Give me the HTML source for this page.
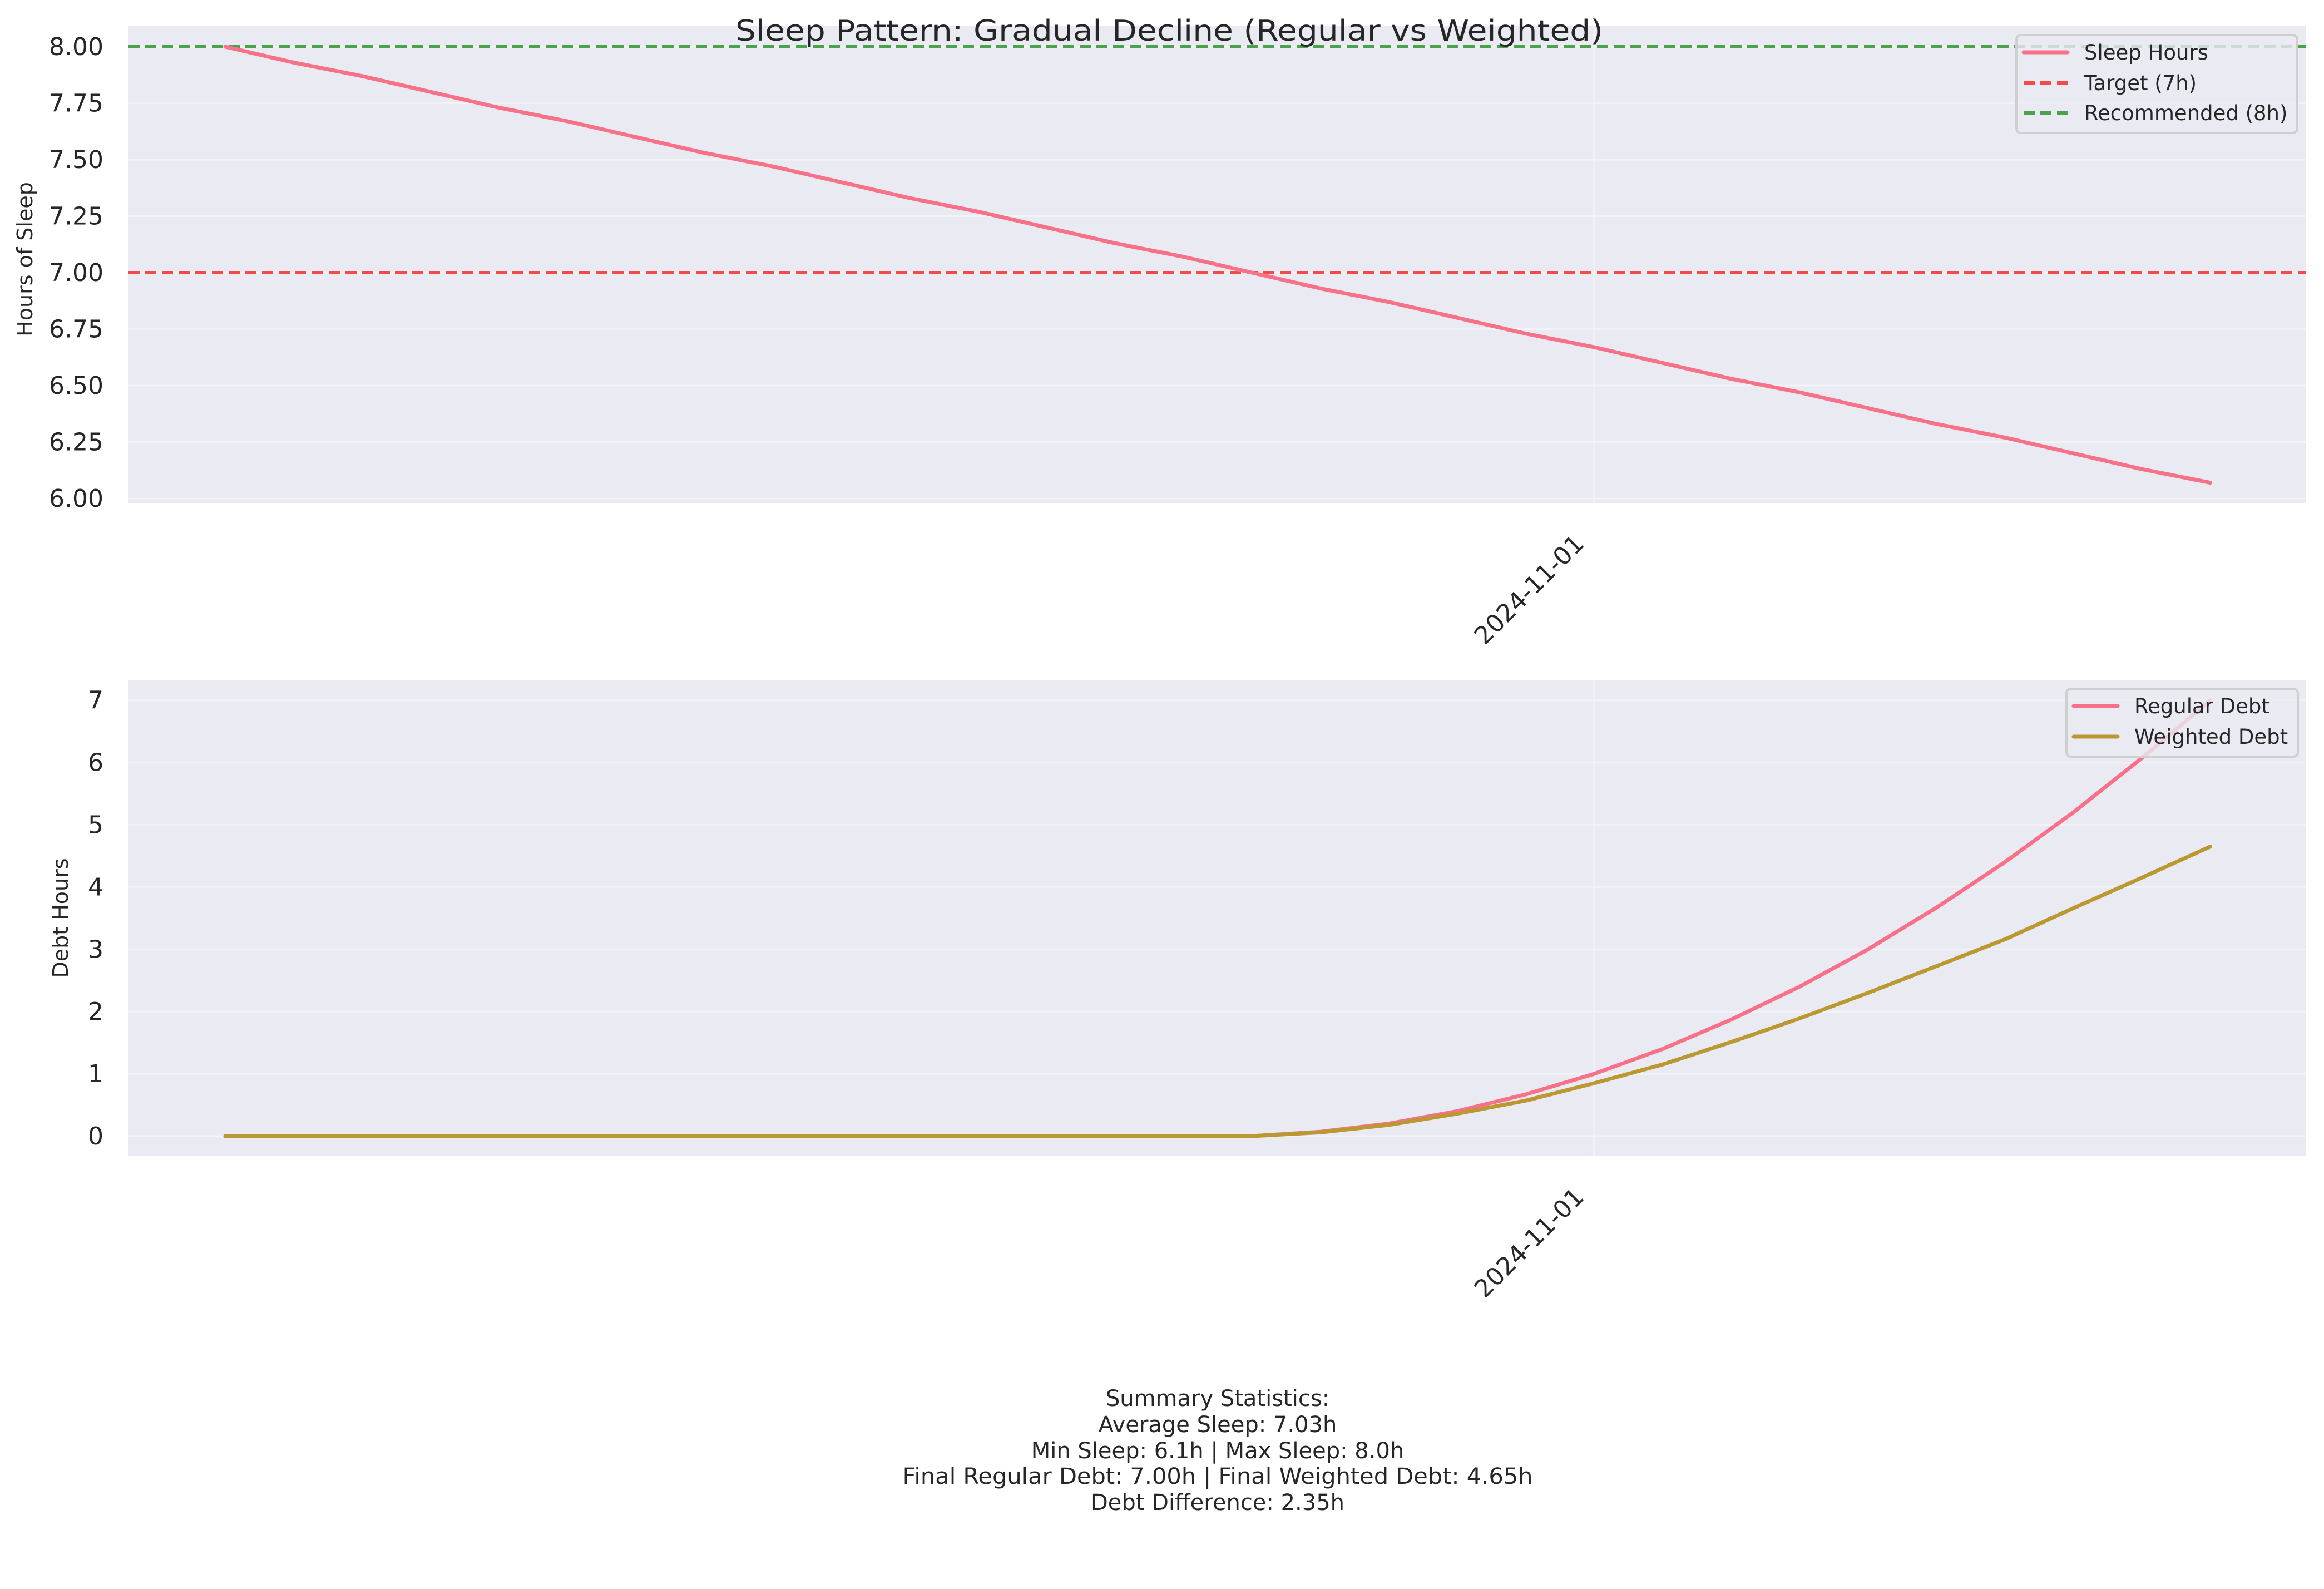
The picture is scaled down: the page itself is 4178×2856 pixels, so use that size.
<!DOCTYPE html>
<html><head><meta charset="utf-8"><style>
html,body{margin:0;padding:0;background:#fff;}
svg{display:block;}
text{font-family:"DejaVu Sans","Liberation Sans",sans-serif;fill:#262626;}
</style></head><body>
<svg id="chart" xmlns="http://www.w3.org/2000/svg" width="4178" height="2856" viewBox="0 0 4178 2856">
<rect x="0" y="0" width="4178" height="2856" fill="#fff"/>
<g id="top"></g>
<g id="bottom"></g>
<text x="2102" y="73" font-size="52" text-anchor="middle" textLength="1560" lengthAdjust="spacingAndGlyphs">Sleep Pattern: Gradual Decline (Regular vs Weighted)</text>
<g font-size="40">
<text x="2189" y="2527" text-anchor="middle">Summary Statistics:</text>
<text x="2189" y="2574" text-anchor="middle">Average Sleep: 7.03h</text>
<text x="2189" y="2621" text-anchor="middle">Min Sleep: 6.1h | Max Sleep: 8.0h</text>
<text x="2189" y="2667" text-anchor="middle" textLength="1133" lengthAdjust="spacingAndGlyphs">Final Regular Debt: 7.00h | Final Weighted Debt: 4.65h</text>
<text x="2189" y="2714" text-anchor="middle">Debt Difference: 2.35h</text>
</g>
</svg>
<script>
const dayIndex = [0,1,2,3,4,5,6,7,8,9,10,11,12,13,14,15,16,17,18,19,20,21,22,23,24,25,26,27,28,29];
const sleepHours = [8.00,7.93,7.87,7.80,7.73,7.67,7.60,7.53,7.47,7.40,7.33,7.27,7.20,7.13,7.07,7.00,6.93,6.87,6.80,6.73,6.67,6.60,6.53,6.47,6.40,6.33,6.27,6.20,6.13,6.07];
const regularDebt = [0,0,0,0,0,0,0,0,0,0,0,0,0,0,0,0,0.07,0.20,0.40,0.67,1.00,1.40,1.87,2.40,3.00,3.67,4.40,5.20,6.07,7.00];
const weightedDebt = [0,0,0,0,0,0,0,0,0,0,0,0,0,0,0,0,0.06,0.18,0.36,0.57,0.85,1.15,1.51,1.89,2.30,2.73,3.16,3.66,4.15,4.65];
const targetLine = 7;
const recommendedLine = 8;
const topTicks = [6.00,6.25,6.50,6.75,7.00,7.25,7.50,7.75,8.00];
const bottomTicks = [0,1,2,3,4,5,6,7];
const dateTickIndex = 20;
const dateTickLabel = "2024-11-01";

const NS = "http://www.w3.org/2000/svg";
function mk(tag, attrs, parent){const e=document.createElementNS(NS,tag);for(const k in attrs)e.setAttribute(k,attrs[k]);parent.appendChild(e);return e;}
const L=231,R=4146;
const xS = i => 405 + i*123.05;
const yTop = v => 84 + (8 - v)*406;
const yBot = v => 2042 - v*111.9;
const GRID = '#f3f3f7';

function axes(g, top, bottom, ticks, yf, fmt, ylabel, ylabelX, ylabelY, name){
  const bg = mk('rect',{x:L,y:top,width:R-L,height:bottom-top,fill:'#eaeaf2'},g);
  
  
  ticks.forEach(t=>{
    const y=yf(t);
    const gl=mk('line',{x1:L,x2:R,y1:y,y2:y,stroke:GRID,'stroke-width':3},g);
    
    
    const tl=mk('text',{x:186,y:y+15,'font-size':44,'text-anchor':'end'},g);
    tl.textContent=fmt(t);
    
    
  });
  const xg=xS(dateTickIndex);
  const vg=mk('line',{x1:xg,x2:xg,y1:top,y2:bottom,stroke:GRID,'stroke-width':3},g);
  
  
  const xl=mk('text',{x:0,y:0,'font-size':44,'text-anchor':'end',transform:`translate(${xg-16},${bottom+76}) rotate(-45)`},g);
  xl.textContent=dateTickLabel;
  
  
  const yl=mk('text',{x:0,y:0,'font-size':38,'text-anchor':'middle',transform:`translate(${ylabelX},${ylabelY}) rotate(-90)`},g);
  yl.textContent=ylabel;
  
  
}
function series(g, vals, yf, color, name){
  const pts=vals.map((v,i)=>xS(dayIndex[i]).toFixed(1)+','+yf(v).toFixed(1)).join(' ');
  const p=mk('polyline',{points:pts,fill:'none',stroke:color,'stroke-width':7,'stroke-linejoin':'round','stroke-linecap':'round'},g);
  
  
}
function hline(g,v,yf,color,name){
  const l=mk('line',{x1:L,x2:R,y1:yf(v),y2:yf(v),stroke:color,'stroke-width':6,'stroke-dasharray':'20 10'},g);
  
  
}
function legend(g,x,y,w,h,items,name){
  const b=mk('rect',{x:x,y:y,width:w,height:h,rx:8,fill:'#eaeaf2','fill-opacity':0.8,stroke:'#cfcfcf','stroke-width':4},g);
  
  
  items.forEach(it=>{
    const l=mk('line',{x1:x+13,x2:x+92,y1:it.y,y2:it.y,stroke:it.color,'stroke-width':7,'stroke-linecap':it.dash?'butt':'round'},g);
    if(it.dash) l.setAttribute('stroke-dasharray','20 10');
    
    
    const t=mk('text',{x:x+122,y:it.y+13,'font-size':37},g);
    t.textContent=it.label;
    
    
  });
}

const gt=document.getElementById('top');


axes(gt,47,904,topTicks,yTop,v=>v.toFixed(2),'Hours of Sleep',58,466,'top');
hline(gt,targetLine,yTop,'#f44a4a','target-line');
hline(gt,recommendedLine,yTop,'#4ba24b','recommended-line');
series(gt,sleepHours,yTop,'#f77189','sleep-hours-line');
legend(gt,3625,63,505,176,[
  {y:94,color:'#f77189',label:'Sleep Hours'},
  {y:149,color:'#f44a4a',label:'Target (7h)',dash:true},
  {y:203,color:'#4ba24b',label:'Recommended (8h)',dash:true}],'top-legend');

const gb=document.getElementById('bottom');


axes(gb,1223,2078,bottomTicks,yBot,v=>String(v),'Debt Hours',122,1650,'bottom');
series(gb,regularDebt,yBot,'#f77189','regular-debt-line');
series(gb,weightedDebt,yBot,'#bb9832','weighted-debt-line');
legend(gb,3715,1238,416,122,[
  {y:1269,color:'#f77189',label:'Regular Debt'},
  {y:1324,color:'#bb9832',label:'Weighted Debt'}],'bottom-legend');
</script>
</body></html>
